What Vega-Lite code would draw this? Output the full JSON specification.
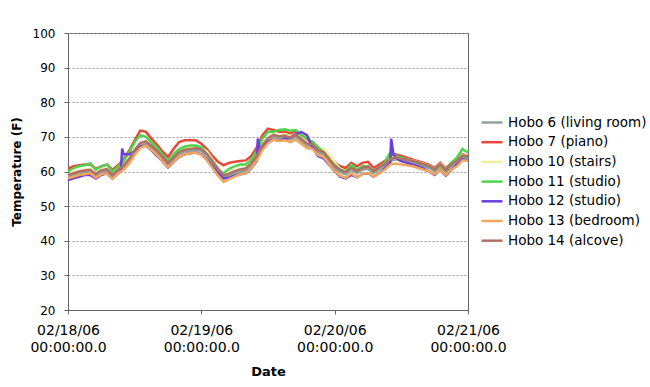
{
"$schema":"https://vega.github.io/schema/vega-lite/v6.json",
"width":400,"height":277,
"autosize":{"type":"none"},
"padding":{"left":68,"top":33,"right":182,"bottom":77},
"background":"white",
"config":{"view":{"stroke":"#666666","strokeWidth":1},"font":"DejaVu Sans"},
"data":{"values":[
{"s":"Hobo 6 (living room)","d":"2006-02-18T00:00","v":58.5},{"s":"Hobo 6 (living room)","d":"2006-02-18T01:00","v":59.0},{"s":"Hobo 6 (living room)","d":"2006-02-18T02:00","v":59.5},{"s":"Hobo 6 (living room)","d":"2006-02-18T03:00","v":59.8},{"s":"Hobo 6 (living room)","d":"2006-02-18T04:00","v":60.0},{"s":"Hobo 6 (living room)","d":"2006-02-18T05:00","v":58.8},{"s":"Hobo 6 (living room)","d":"2006-02-18T06:00","v":59.8},{"s":"Hobo 6 (living room)","d":"2006-02-18T07:00","v":60.2},{"s":"Hobo 6 (living room)","d":"2006-02-18T08:00","v":58.6},{"s":"Hobo 6 (living room)","d":"2006-02-18T09:00","v":60.0},{"s":"Hobo 6 (living room)","d":"2006-02-18T10:00","v":61.2},{"s":"Hobo 6 (living room)","d":"2006-02-18T11:00","v":63.0},{"s":"Hobo 6 (living room)","d":"2006-02-18T12:00","v":65.5},{"s":"Hobo 6 (living room)","d":"2006-02-18T13:00","v":67.5},{"s":"Hobo 6 (living room)","d":"2006-02-18T14:00","v":68.2},{"s":"Hobo 6 (living room)","d":"2006-02-18T15:00","v":67.0},{"s":"Hobo 6 (living room)","d":"2006-02-18T16:00","v":65.5},{"s":"Hobo 6 (living room)","d":"2006-02-18T17:00","v":63.8},{"s":"Hobo 6 (living room)","d":"2006-02-18T18:00","v":62.0},{"s":"Hobo 6 (living room)","d":"2006-02-18T19:00","v":63.5},{"s":"Hobo 6 (living room)","d":"2006-02-18T20:00","v":65.0},{"s":"Hobo 6 (living room)","d":"2006-02-18T21:00","v":65.8},{"s":"Hobo 6 (living room)","d":"2006-02-18T22:00","v":66.0},{"s":"Hobo 6 (living room)","d":"2006-02-18T23:00","v":66.2},
{"s":"Hobo 6 (living room)","d":"2006-02-19T00:00","v":66.0},{"s":"Hobo 6 (living room)","d":"2006-02-19T01:00","v":64.7},{"s":"Hobo 6 (living room)","d":"2006-02-19T02:00","v":62.5},{"s":"Hobo 6 (living room)","d":"2006-02-19T03:00","v":60.3},{"s":"Hobo 6 (living room)","d":"2006-02-19T04:00","v":58.2},{"s":"Hobo 6 (living room)","d":"2006-02-19T05:00","v":58.8},{"s":"Hobo 6 (living room)","d":"2006-02-19T06:00","v":59.5},{"s":"Hobo 6 (living room)","d":"2006-02-19T07:00","v":60.0},{"s":"Hobo 6 (living room)","d":"2006-02-19T08:00","v":60.3},{"s":"Hobo 6 (living room)","d":"2006-02-19T09:00","v":61.8},{"s":"Hobo 6 (living room)","d":"2006-02-19T10:00","v":64.0},{"s":"Hobo 6 (living room)","d":"2006-02-19T11:00","v":67.0},{"s":"Hobo 6 (living room)","d":"2006-02-19T12:00","v":69.0},{"s":"Hobo 6 (living room)","d":"2006-02-19T13:00","v":70.0},{"s":"Hobo 6 (living room)","d":"2006-02-19T14:00","v":69.5},{"s":"Hobo 6 (living room)","d":"2006-02-19T15:00","v":69.8},{"s":"Hobo 6 (living room)","d":"2006-02-19T16:00","v":69.2},{"s":"Hobo 6 (living room)","d":"2006-02-19T17:00","v":70.0},{"s":"Hobo 6 (living room)","d":"2006-02-19T18:00","v":68.8},{"s":"Hobo 6 (living room)","d":"2006-02-19T19:00","v":67.5},{"s":"Hobo 6 (living room)","d":"2006-02-19T20:00","v":67.2},{"s":"Hobo 6 (living room)","d":"2006-02-19T21:00","v":65.5},{"s":"Hobo 6 (living room)","d":"2006-02-19T22:00","v":65.0},{"s":"Hobo 6 (living room)","d":"2006-02-19T23:00","v":63.0},
{"s":"Hobo 6 (living room)","d":"2006-02-20T00:00","v":61.0},{"s":"Hobo 6 (living room)","d":"2006-02-20T01:00","v":59.8},{"s":"Hobo 6 (living room)","d":"2006-02-20T02:00","v":59.2},{"s":"Hobo 6 (living room)","d":"2006-02-20T03:00","v":60.5},{"s":"Hobo 6 (living room)","d":"2006-02-20T04:00","v":59.5},{"s":"Hobo 6 (living room)","d":"2006-02-20T05:00","v":60.5},{"s":"Hobo 6 (living room)","d":"2006-02-20T06:00","v":60.8},{"s":"Hobo 6 (living room)","d":"2006-02-20T07:00","v":59.5},{"s":"Hobo 6 (living room)","d":"2006-02-20T08:00","v":60.6},{"s":"Hobo 6 (living room)","d":"2006-02-20T09:00","v":61.5},{"s":"Hobo 6 (living room)","d":"2006-02-20T10:00","v":63.0},{"s":"Hobo 6 (living room)","d":"2006-02-20T11:00","v":63.5},{"s":"Hobo 6 (living room)","d":"2006-02-20T12:00","v":63.0},{"s":"Hobo 6 (living room)","d":"2006-02-20T13:00","v":62.8},{"s":"Hobo 6 (living room)","d":"2006-02-20T14:00","v":62.5},{"s":"Hobo 6 (living room)","d":"2006-02-20T15:00","v":62.0},{"s":"Hobo 6 (living room)","d":"2006-02-20T16:00","v":61.5},{"s":"Hobo 6 (living room)","d":"2006-02-20T17:00","v":61.0},{"s":"Hobo 6 (living room)","d":"2006-02-20T18:00","v":60.0},{"s":"Hobo 6 (living room)","d":"2006-02-20T19:00","v":61.5},{"s":"Hobo 6 (living room)","d":"2006-02-20T20:00","v":59.8},{"s":"Hobo 6 (living room)","d":"2006-02-20T21:00","v":61.5},{"s":"Hobo 6 (living room)","d":"2006-02-20T22:00","v":62.5},{"s":"Hobo 6 (living room)","d":"2006-02-20T23:00","v":64.0},{"s":"Hobo 6 (living room)","d":"2006-02-21T00:00","v":63.8},

{"s":"Hobo 7 (piano)","d":"2006-02-18T00:00","v":60.8},{"s":"Hobo 7 (piano)","d":"2006-02-18T01:00","v":61.5},{"s":"Hobo 7 (piano)","d":"2006-02-18T02:00","v":61.8},{"s":"Hobo 7 (piano)","d":"2006-02-18T03:00","v":62.0},{"s":"Hobo 7 (piano)","d":"2006-02-18T04:00","v":62.0},{"s":"Hobo 7 (piano)","d":"2006-02-18T05:00","v":60.8},{"s":"Hobo 7 (piano)","d":"2006-02-18T06:00","v":61.5},{"s":"Hobo 7 (piano)","d":"2006-02-18T07:00","v":62.0},{"s":"Hobo 7 (piano)","d":"2006-02-18T08:00","v":60.5},{"s":"Hobo 7 (piano)","d":"2006-02-18T09:00","v":61.8},{"s":"Hobo 7 (piano)","d":"2006-02-18T10:00","v":63.5},{"s":"Hobo 7 (piano)","d":"2006-02-18T11:00","v":66.0},{"s":"Hobo 7 (piano)","d":"2006-02-18T12:00","v":69.0},{"s":"Hobo 7 (piano)","d":"2006-02-18T13:00","v":71.8},{"s":"Hobo 7 (piano)","d":"2006-02-18T14:00","v":71.5},{"s":"Hobo 7 (piano)","d":"2006-02-18T15:00","v":69.5},{"s":"Hobo 7 (piano)","d":"2006-02-18T16:00","v":67.8},{"s":"Hobo 7 (piano)","d":"2006-02-18T17:00","v":65.8},{"s":"Hobo 7 (piano)","d":"2006-02-18T18:00","v":64.2},{"s":"Hobo 7 (piano)","d":"2006-02-18T19:00","v":66.5},{"s":"Hobo 7 (piano)","d":"2006-02-18T20:00","v":68.5},{"s":"Hobo 7 (piano)","d":"2006-02-18T21:00","v":69.0},{"s":"Hobo 7 (piano)","d":"2006-02-18T22:00","v":69.0},{"s":"Hobo 7 (piano)","d":"2006-02-18T23:00","v":69.0},
{"s":"Hobo 7 (piano)","d":"2006-02-19T00:00","v":68.0},{"s":"Hobo 7 (piano)","d":"2006-02-19T01:00","v":66.5},{"s":"Hobo 7 (piano)","d":"2006-02-19T02:00","v":64.5},{"s":"Hobo 7 (piano)","d":"2006-02-19T03:00","v":62.8},{"s":"Hobo 7 (piano)","d":"2006-02-19T04:00","v":61.8},{"s":"Hobo 7 (piano)","d":"2006-02-19T05:00","v":62.5},{"s":"Hobo 7 (piano)","d":"2006-02-19T06:00","v":62.8},{"s":"Hobo 7 (piano)","d":"2006-02-19T07:00","v":63.0},{"s":"Hobo 7 (piano)","d":"2006-02-19T08:00","v":63.2},{"s":"Hobo 7 (piano)","d":"2006-02-19T09:00","v":64.5},{"s":"Hobo 7 (piano)","d":"2006-02-19T10:00","v":67.0},{"s":"Hobo 7 (piano)","d":"2006-02-19T11:00","v":70.5},{"s":"Hobo 7 (piano)","d":"2006-02-19T12:00","v":72.4},{"s":"Hobo 7 (piano)","d":"2006-02-19T13:00","v":72.0},{"s":"Hobo 7 (piano)","d":"2006-02-19T14:00","v":71.5},{"s":"Hobo 7 (piano)","d":"2006-02-19T15:00","v":71.5},{"s":"Hobo 7 (piano)","d":"2006-02-19T16:00","v":71.0},{"s":"Hobo 7 (piano)","d":"2006-02-19T17:00","v":71.5},{"s":"Hobo 7 (piano)","d":"2006-02-19T18:00","v":70.5},{"s":"Hobo 7 (piano)","d":"2006-02-19T19:00","v":69.0},{"s":"Hobo 7 (piano)","d":"2006-02-19T20:00","v":68.5},{"s":"Hobo 7 (piano)","d":"2006-02-19T21:00","v":67.0},{"s":"Hobo 7 (piano)","d":"2006-02-19T22:00","v":66.0},{"s":"Hobo 7 (piano)","d":"2006-02-19T23:00","v":64.5},
{"s":"Hobo 7 (piano)","d":"2006-02-20T00:00","v":62.5},{"s":"Hobo 7 (piano)","d":"2006-02-20T01:00","v":61.5},{"s":"Hobo 7 (piano)","d":"2006-02-20T02:00","v":61.0},{"s":"Hobo 7 (piano)","d":"2006-02-20T03:00","v":62.5},{"s":"Hobo 7 (piano)","d":"2006-02-20T04:00","v":61.5},{"s":"Hobo 7 (piano)","d":"2006-02-20T05:00","v":62.5},{"s":"Hobo 7 (piano)","d":"2006-02-20T06:00","v":62.8},{"s":"Hobo 7 (piano)","d":"2006-02-20T07:00","v":61.0},{"s":"Hobo 7 (piano)","d":"2006-02-20T08:00","v":62.0},{"s":"Hobo 7 (piano)","d":"2006-02-20T09:00","v":63.0},{"s":"Hobo 7 (piano)","d":"2006-02-20T10:00","v":64.5},{"s":"Hobo 7 (piano)","d":"2006-02-20T11:00","v":65.0},{"s":"Hobo 7 (piano)","d":"2006-02-20T12:00","v":64.5},{"s":"Hobo 7 (piano)","d":"2006-02-20T13:00","v":64.0},{"s":"Hobo 7 (piano)","d":"2006-02-20T14:00","v":63.5},{"s":"Hobo 7 (piano)","d":"2006-02-20T15:00","v":63.0},{"s":"Hobo 7 (piano)","d":"2006-02-20T16:00","v":62.5},{"s":"Hobo 7 (piano)","d":"2006-02-20T17:00","v":62.0},{"s":"Hobo 7 (piano)","d":"2006-02-20T18:00","v":61.0},{"s":"Hobo 7 (piano)","d":"2006-02-20T19:00","v":62.5},{"s":"Hobo 7 (piano)","d":"2006-02-20T20:00","v":60.8},{"s":"Hobo 7 (piano)","d":"2006-02-20T21:00","v":62.5},{"s":"Hobo 7 (piano)","d":"2006-02-20T22:00","v":63.5},{"s":"Hobo 7 (piano)","d":"2006-02-20T23:00","v":65.0},{"s":"Hobo 7 (piano)","d":"2006-02-21T00:00","v":64.5},

{"s":"Hobo 10 (stairs)","d":"2006-02-18T00:00","v":59.0},{"s":"Hobo 10 (stairs)","d":"2006-02-18T01:00","v":59.8},{"s":"Hobo 10 (stairs)","d":"2006-02-18T02:00","v":60.2},{"s":"Hobo 10 (stairs)","d":"2006-02-18T03:00","v":60.5},{"s":"Hobo 10 (stairs)","d":"2006-02-18T04:00","v":60.8},{"s":"Hobo 10 (stairs)","d":"2006-02-18T05:00","v":59.5},{"s":"Hobo 10 (stairs)","d":"2006-02-18T06:00","v":60.5},{"s":"Hobo 10 (stairs)","d":"2006-02-18T07:00","v":60.8},{"s":"Hobo 10 (stairs)","d":"2006-02-18T08:00","v":59.3},{"s":"Hobo 10 (stairs)","d":"2006-02-18T09:00","v":60.6},{"s":"Hobo 10 (stairs)","d":"2006-02-18T10:00","v":62.0},{"s":"Hobo 10 (stairs)","d":"2006-02-18T11:00","v":63.8},{"s":"Hobo 10 (stairs)","d":"2006-02-18T12:00","v":66.2},{"s":"Hobo 10 (stairs)","d":"2006-02-18T13:00","v":68.2},{"s":"Hobo 10 (stairs)","d":"2006-02-18T14:00","v":68.8},{"s":"Hobo 10 (stairs)","d":"2006-02-18T15:00","v":67.8},{"s":"Hobo 10 (stairs)","d":"2006-02-18T16:00","v":66.2},{"s":"Hobo 10 (stairs)","d":"2006-02-18T17:00","v":64.5},{"s":"Hobo 10 (stairs)","d":"2006-02-18T18:00","v":62.8},{"s":"Hobo 10 (stairs)","d":"2006-02-18T19:00","v":64.2},{"s":"Hobo 10 (stairs)","d":"2006-02-18T20:00","v":65.8},{"s":"Hobo 10 (stairs)","d":"2006-02-18T21:00","v":66.6},{"s":"Hobo 10 (stairs)","d":"2006-02-18T22:00","v":67.0},{"s":"Hobo 10 (stairs)","d":"2006-02-18T23:00","v":67.2},
{"s":"Hobo 10 (stairs)","d":"2006-02-19T00:00","v":66.8},{"s":"Hobo 10 (stairs)","d":"2006-02-19T01:00","v":65.8},{"s":"Hobo 10 (stairs)","d":"2006-02-19T02:00","v":63.5},{"s":"Hobo 10 (stairs)","d":"2006-02-19T03:00","v":61.2},{"s":"Hobo 10 (stairs)","d":"2006-02-19T04:00","v":59.0},{"s":"Hobo 10 (stairs)","d":"2006-02-19T05:00","v":59.6},{"s":"Hobo 10 (stairs)","d":"2006-02-19T06:00","v":60.3},{"s":"Hobo 10 (stairs)","d":"2006-02-19T07:00","v":60.8},{"s":"Hobo 10 (stairs)","d":"2006-02-19T08:00","v":61.0},{"s":"Hobo 10 (stairs)","d":"2006-02-19T09:00","v":62.5},{"s":"Hobo 10 (stairs)","d":"2006-02-19T10:00","v":64.8},{"s":"Hobo 10 (stairs)","d":"2006-02-19T11:00","v":67.8},{"s":"Hobo 10 (stairs)","d":"2006-02-19T12:00","v":69.8},{"s":"Hobo 10 (stairs)","d":"2006-02-19T13:00","v":70.8},{"s":"Hobo 10 (stairs)","d":"2006-02-19T14:00","v":70.5},{"s":"Hobo 10 (stairs)","d":"2006-02-19T15:00","v":70.8},{"s":"Hobo 10 (stairs)","d":"2006-02-19T16:00","v":70.2},{"s":"Hobo 10 (stairs)","d":"2006-02-19T17:00","v":70.8},{"s":"Hobo 10 (stairs)","d":"2006-02-19T18:00","v":69.8},{"s":"Hobo 10 (stairs)","d":"2006-02-19T19:00","v":68.5},{"s":"Hobo 10 (stairs)","d":"2006-02-19T20:00","v":68.2},{"s":"Hobo 10 (stairs)","d":"2006-02-19T21:00","v":67.0},{"s":"Hobo 10 (stairs)","d":"2006-02-19T22:00","v":66.5},{"s":"Hobo 10 (stairs)","d":"2006-02-19T23:00","v":64.8},
{"s":"Hobo 10 (stairs)","d":"2006-02-20T00:00","v":62.5},{"s":"Hobo 10 (stairs)","d":"2006-02-20T01:00","v":60.8},{"s":"Hobo 10 (stairs)","d":"2006-02-20T02:00","v":60.0},{"s":"Hobo 10 (stairs)","d":"2006-02-20T03:00","v":61.2},{"s":"Hobo 10 (stairs)","d":"2006-02-20T04:00","v":60.2},{"s":"Hobo 10 (stairs)","d":"2006-02-20T05:00","v":61.2},{"s":"Hobo 10 (stairs)","d":"2006-02-20T06:00","v":61.5},{"s":"Hobo 10 (stairs)","d":"2006-02-20T07:00","v":60.2},{"s":"Hobo 10 (stairs)","d":"2006-02-20T08:00","v":61.2},{"s":"Hobo 10 (stairs)","d":"2006-02-20T09:00","v":62.2},{"s":"Hobo 10 (stairs)","d":"2006-02-20T10:00","v":63.8},{"s":"Hobo 10 (stairs)","d":"2006-02-20T11:00","v":64.2},{"s":"Hobo 10 (stairs)","d":"2006-02-20T12:00","v":63.8},{"s":"Hobo 10 (stairs)","d":"2006-02-20T13:00","v":63.5},{"s":"Hobo 10 (stairs)","d":"2006-02-20T14:00","v":63.2},{"s":"Hobo 10 (stairs)","d":"2006-02-20T15:00","v":62.7},{"s":"Hobo 10 (stairs)","d":"2006-02-20T16:00","v":62.2},{"s":"Hobo 10 (stairs)","d":"2006-02-20T17:00","v":61.7},{"s":"Hobo 10 (stairs)","d":"2006-02-20T18:00","v":60.7},{"s":"Hobo 10 (stairs)","d":"2006-02-20T19:00","v":62.2},{"s":"Hobo 10 (stairs)","d":"2006-02-20T20:00","v":60.5},{"s":"Hobo 10 (stairs)","d":"2006-02-20T21:00","v":62.2},{"s":"Hobo 10 (stairs)","d":"2006-02-20T22:00","v":63.2},{"s":"Hobo 10 (stairs)","d":"2006-02-20T23:00","v":64.8},{"s":"Hobo 10 (stairs)","d":"2006-02-21T00:00","v":64.5},

{"s":"Hobo 11 (studio)","d":"2006-02-18T00:00","v":60.0},{"s":"Hobo 11 (studio)","d":"2006-02-18T01:00","v":61.0},{"s":"Hobo 11 (studio)","d":"2006-02-18T02:00","v":61.5},{"s":"Hobo 11 (studio)","d":"2006-02-18T03:00","v":61.8},{"s":"Hobo 11 (studio)","d":"2006-02-18T04:00","v":62.3},{"s":"Hobo 11 (studio)","d":"2006-02-18T05:00","v":60.5},{"s":"Hobo 11 (studio)","d":"2006-02-18T06:00","v":61.5},{"s":"Hobo 11 (studio)","d":"2006-02-18T07:00","v":62.0},{"s":"Hobo 11 (studio)","d":"2006-02-18T08:00","v":60.0},{"s":"Hobo 11 (studio)","d":"2006-02-18T09:00","v":61.5},{"s":"Hobo 11 (studio)","d":"2006-02-18T10:00","v":63.0},{"s":"Hobo 11 (studio)","d":"2006-02-18T11:00","v":65.5},{"s":"Hobo 11 (studio)","d":"2006-02-18T12:00","v":68.5},{"s":"Hobo 11 (studio)","d":"2006-02-18T13:00","v":70.5},{"s":"Hobo 11 (studio)","d":"2006-02-18T14:00","v":70.0},{"s":"Hobo 11 (studio)","d":"2006-02-18T15:00","v":68.5},{"s":"Hobo 11 (studio)","d":"2006-02-18T16:00","v":67.0},{"s":"Hobo 11 (studio)","d":"2006-02-18T17:00","v":65.0},{"s":"Hobo 11 (studio)","d":"2006-02-18T18:00","v":63.0},{"s":"Hobo 11 (studio)","d":"2006-02-18T19:00","v":65.0},{"s":"Hobo 11 (studio)","d":"2006-02-18T20:00","v":66.5},{"s":"Hobo 11 (studio)","d":"2006-02-18T21:00","v":67.2},{"s":"Hobo 11 (studio)","d":"2006-02-18T22:00","v":67.5},{"s":"Hobo 11 (studio)","d":"2006-02-18T23:00","v":67.5},
{"s":"Hobo 11 (studio)","d":"2006-02-19T00:00","v":67.0},{"s":"Hobo 11 (studio)","d":"2006-02-19T01:00","v":65.0},{"s":"Hobo 11 (studio)","d":"2006-02-19T02:00","v":62.5},{"s":"Hobo 11 (studio)","d":"2006-02-19T03:00","v":60.5},{"s":"Hobo 11 (studio)","d":"2006-02-19T04:00","v":59.5},{"s":"Hobo 11 (studio)","d":"2006-02-19T05:00","v":60.8},{"s":"Hobo 11 (studio)","d":"2006-02-19T06:00","v":61.5},{"s":"Hobo 11 (studio)","d":"2006-02-19T07:00","v":62.0},{"s":"Hobo 11 (studio)","d":"2006-02-19T08:00","v":62.0},{"s":"Hobo 11 (studio)","d":"2006-02-19T09:00","v":63.5},{"s":"Hobo 11 (studio)","d":"2006-02-19T10:00","v":66.0},{"s":"Hobo 11 (studio)","d":"2006-02-19T11:00","v":69.5},{"s":"Hobo 11 (studio)","d":"2006-02-19T12:00","v":71.5},{"s":"Hobo 11 (studio)","d":"2006-02-19T13:00","v":71.5},{"s":"Hobo 11 (studio)","d":"2006-02-19T14:00","v":72.0},{"s":"Hobo 11 (studio)","d":"2006-02-19T15:00","v":72.2},{"s":"Hobo 11 (studio)","d":"2006-02-19T16:00","v":71.8},{"s":"Hobo 11 (studio)","d":"2006-02-19T17:00","v":72.0},{"s":"Hobo 11 (studio)","d":"2006-02-19T18:00","v":70.5},{"s":"Hobo 11 (studio)","d":"2006-02-19T19:00","v":69.5},{"s":"Hobo 11 (studio)","d":"2006-02-19T20:00","v":68.5},{"s":"Hobo 11 (studio)","d":"2006-02-19T21:00","v":67.0},{"s":"Hobo 11 (studio)","d":"2006-02-19T22:00","v":65.5},{"s":"Hobo 11 (studio)","d":"2006-02-19T23:00","v":63.5},
{"s":"Hobo 11 (studio)","d":"2006-02-20T00:00","v":61.8},{"s":"Hobo 11 (studio)","d":"2006-02-20T01:00","v":60.5},{"s":"Hobo 11 (studio)","d":"2006-02-20T02:00","v":60.0},{"s":"Hobo 11 (studio)","d":"2006-02-20T03:00","v":62.0},{"s":"Hobo 11 (studio)","d":"2006-02-20T04:00","v":60.5},{"s":"Hobo 11 (studio)","d":"2006-02-20T05:00","v":61.5},{"s":"Hobo 11 (studio)","d":"2006-02-20T06:00","v":61.5},{"s":"Hobo 11 (studio)","d":"2006-02-20T07:00","v":60.0},{"s":"Hobo 11 (studio)","d":"2006-02-20T08:00","v":61.2},{"s":"Hobo 11 (studio)","d":"2006-02-20T09:00","v":62.5},{"s":"Hobo 11 (studio)","d":"2006-02-20T10:00","v":65.5},{"s":"Hobo 11 (studio)","d":"2006-02-20T11:00","v":64.5},{"s":"Hobo 11 (studio)","d":"2006-02-20T12:00","v":64.0},{"s":"Hobo 11 (studio)","d":"2006-02-20T13:00","v":63.5},{"s":"Hobo 11 (studio)","d":"2006-02-20T14:00","v":63.0},{"s":"Hobo 11 (studio)","d":"2006-02-20T15:00","v":62.5},{"s":"Hobo 11 (studio)","d":"2006-02-20T16:00","v":62.0},{"s":"Hobo 11 (studio)","d":"2006-02-20T17:00","v":61.5},{"s":"Hobo 11 (studio)","d":"2006-02-20T18:00","v":60.5},{"s":"Hobo 11 (studio)","d":"2006-02-20T19:00","v":62.0},{"s":"Hobo 11 (studio)","d":"2006-02-20T20:00","v":60.5},{"s":"Hobo 11 (studio)","d":"2006-02-20T21:00","v":62.5},{"s":"Hobo 11 (studio)","d":"2006-02-20T22:00","v":64.0},{"s":"Hobo 11 (studio)","d":"2006-02-20T23:00","v":66.5},{"s":"Hobo 11 (studio)","d":"2006-02-21T00:00","v":65.5},

{"s":"Hobo 12 (studio)","d":"2006-02-18T00:00","v":57.5},{"s":"Hobo 12 (studio)","d":"2006-02-18T01:00","v":58.0},{"s":"Hobo 12 (studio)","d":"2006-02-18T02:00","v":58.5},{"s":"Hobo 12 (studio)","d":"2006-02-18T03:00","v":59.0},{"s":"Hobo 12 (studio)","d":"2006-02-18T04:00","v":59.0},{"s":"Hobo 12 (studio)","d":"2006-02-18T05:00","v":58.0},{"s":"Hobo 12 (studio)","d":"2006-02-18T06:00","v":59.0},{"s":"Hobo 12 (studio)","d":"2006-02-18T07:00","v":59.5},{"s":"Hobo 12 (studio)","d":"2006-02-18T08:00","v":58.0},{"s":"Hobo 12 (studio)","d":"2006-02-18T09:00","v":59.5},{"s":"Hobo 12 (studio)","d":"2006-02-18T09:30","v":60.0},{"s":"Hobo 12 (studio)","d":"2006-02-18T09:45","v":66.6},{"s":"Hobo 12 (studio)","d":"2006-02-18T10:00","v":65.0},{"s":"Hobo 12 (studio)","d":"2006-02-18T11:00","v":65.0},{"s":"Hobo 12 (studio)","d":"2006-02-18T12:00","v":66.0},{"s":"Hobo 12 (studio)","d":"2006-02-18T13:00","v":67.2},{"s":"Hobo 12 (studio)","d":"2006-02-18T14:00","v":67.5},{"s":"Hobo 12 (studio)","d":"2006-02-18T15:00","v":66.2},{"s":"Hobo 12 (studio)","d":"2006-02-18T16:00","v":64.5},{"s":"Hobo 12 (studio)","d":"2006-02-18T17:00","v":63.0},{"s":"Hobo 12 (studio)","d":"2006-02-18T18:00","v":61.2},{"s":"Hobo 12 (studio)","d":"2006-02-18T19:00","v":62.8},{"s":"Hobo 12 (studio)","d":"2006-02-18T20:00","v":64.2},{"s":"Hobo 12 (studio)","d":"2006-02-18T21:00","v":65.0},{"s":"Hobo 12 (studio)","d":"2006-02-18T22:00","v":65.3},{"s":"Hobo 12 (studio)","d":"2006-02-18T23:00","v":65.5},
{"s":"Hobo 12 (studio)","d":"2006-02-19T00:00","v":65.0},{"s":"Hobo 12 (studio)","d":"2006-02-19T01:00","v":63.5},{"s":"Hobo 12 (studio)","d":"2006-02-19T02:00","v":61.5},{"s":"Hobo 12 (studio)","d":"2006-02-19T03:00","v":59.5},{"s":"Hobo 12 (studio)","d":"2006-02-19T04:00","v":58.0},{"s":"Hobo 12 (studio)","d":"2006-02-19T05:00","v":58.2},{"s":"Hobo 12 (studio)","d":"2006-02-19T06:00","v":58.8},{"s":"Hobo 12 (studio)","d":"2006-02-19T07:00","v":59.2},{"s":"Hobo 12 (studio)","d":"2006-02-19T08:00","v":59.5},{"s":"Hobo 12 (studio)","d":"2006-02-19T09:00","v":61.0},{"s":"Hobo 12 (studio)","d":"2006-02-19T10:00","v":63.0},{"s":"Hobo 12 (studio)","d":"2006-02-19T10:10","v":69.5},{"s":"Hobo 12 (studio)","d":"2006-02-19T10:30","v":66.5},{"s":"Hobo 12 (studio)","d":"2006-02-19T11:00","v":66.8},{"s":"Hobo 12 (studio)","d":"2006-02-19T12:00","v":68.5},{"s":"Hobo 12 (studio)","d":"2006-02-19T13:00","v":69.2},{"s":"Hobo 12 (studio)","d":"2006-02-19T14:00","v":68.8},{"s":"Hobo 12 (studio)","d":"2006-02-19T15:00","v":69.5},{"s":"Hobo 12 (studio)","d":"2006-02-19T16:00","v":69.8},{"s":"Hobo 12 (studio)","d":"2006-02-19T17:00","v":70.8},{"s":"Hobo 12 (studio)","d":"2006-02-19T18:00","v":71.4},{"s":"Hobo 12 (studio)","d":"2006-02-19T19:00","v":70.5},{"s":"Hobo 12 (studio)","d":"2006-02-19T20:00","v":67.0},{"s":"Hobo 12 (studio)","d":"2006-02-19T21:00","v":64.5},{"s":"Hobo 12 (studio)","d":"2006-02-19T22:00","v":63.8},{"s":"Hobo 12 (studio)","d":"2006-02-19T23:00","v":62.0},
{"s":"Hobo 12 (studio)","d":"2006-02-20T00:00","v":60.0},{"s":"Hobo 12 (studio)","d":"2006-02-20T01:00","v":58.5},{"s":"Hobo 12 (studio)","d":"2006-02-20T02:00","v":58.0},{"s":"Hobo 12 (studio)","d":"2006-02-20T03:00","v":59.0},{"s":"Hobo 12 (studio)","d":"2006-02-20T04:00","v":58.3},{"s":"Hobo 12 (studio)","d":"2006-02-20T05:00","v":59.3},{"s":"Hobo 12 (studio)","d":"2006-02-20T06:00","v":59.5},{"s":"Hobo 12 (studio)","d":"2006-02-20T07:00","v":58.5},{"s":"Hobo 12 (studio)","d":"2006-02-20T08:00","v":59.5},{"s":"Hobo 12 (studio)","d":"2006-02-20T09:00","v":60.8},{"s":"Hobo 12 (studio)","d":"2006-02-20T10:00","v":62.5},{"s":"Hobo 12 (studio)","d":"2006-02-20T10:10","v":69.5},{"s":"Hobo 12 (studio)","d":"2006-02-20T10:35","v":65.0},{"s":"Hobo 12 (studio)","d":"2006-02-20T11:00","v":64.0},{"s":"Hobo 12 (studio)","d":"2006-02-20T12:00","v":63.0},{"s":"Hobo 12 (studio)","d":"2006-02-20T13:00","v":62.5},{"s":"Hobo 12 (studio)","d":"2006-02-20T14:00","v":62.0},{"s":"Hobo 12 (studio)","d":"2006-02-20T15:00","v":61.5},{"s":"Hobo 12 (studio)","d":"2006-02-20T16:00","v":60.8},{"s":"Hobo 12 (studio)","d":"2006-02-20T17:00","v":60.0},{"s":"Hobo 12 (studio)","d":"2006-02-20T18:00","v":59.0},{"s":"Hobo 12 (studio)","d":"2006-02-20T19:00","v":60.5},{"s":"Hobo 12 (studio)","d":"2006-02-20T20:00","v":58.8},{"s":"Hobo 12 (studio)","d":"2006-02-20T21:00","v":60.5},{"s":"Hobo 12 (studio)","d":"2006-02-20T22:00","v":62.0},{"s":"Hobo 12 (studio)","d":"2006-02-20T23:00","v":63.5},{"s":"Hobo 12 (studio)","d":"2006-02-21T00:00","v":63.2},

{"s":"Hobo 13 (bedroom)","d":"2006-02-18T00:00","v":58.0},{"s":"Hobo 13 (bedroom)","d":"2006-02-18T01:00","v":58.5},{"s":"Hobo 13 (bedroom)","d":"2006-02-18T02:00","v":59.0},{"s":"Hobo 13 (bedroom)","d":"2006-02-18T03:00","v":59.2},{"s":"Hobo 13 (bedroom)","d":"2006-02-18T04:00","v":59.5},{"s":"Hobo 13 (bedroom)","d":"2006-02-18T05:00","v":58.2},{"s":"Hobo 13 (bedroom)","d":"2006-02-18T06:00","v":59.2},{"s":"Hobo 13 (bedroom)","d":"2006-02-18T07:00","v":59.5},{"s":"Hobo 13 (bedroom)","d":"2006-02-18T08:00","v":57.9},{"s":"Hobo 13 (bedroom)","d":"2006-02-18T09:00","v":59.4},{"s":"Hobo 13 (bedroom)","d":"2006-02-18T10:00","v":60.5},{"s":"Hobo 13 (bedroom)","d":"2006-02-18T11:00","v":62.3},{"s":"Hobo 13 (bedroom)","d":"2006-02-18T12:00","v":64.8},{"s":"Hobo 13 (bedroom)","d":"2006-02-18T13:00","v":66.8},{"s":"Hobo 13 (bedroom)","d":"2006-02-18T14:00","v":67.5},{"s":"Hobo 13 (bedroom)","d":"2006-02-18T15:00","v":66.3},{"s":"Hobo 13 (bedroom)","d":"2006-02-18T16:00","v":64.8},{"s":"Hobo 13 (bedroom)","d":"2006-02-18T17:00","v":63.0},{"s":"Hobo 13 (bedroom)","d":"2006-02-18T18:00","v":61.3},{"s":"Hobo 13 (bedroom)","d":"2006-02-18T19:00","v":62.8},{"s":"Hobo 13 (bedroom)","d":"2006-02-18T20:00","v":64.3},{"s":"Hobo 13 (bedroom)","d":"2006-02-18T21:00","v":65.0},{"s":"Hobo 13 (bedroom)","d":"2006-02-18T22:00","v":65.3},{"s":"Hobo 13 (bedroom)","d":"2006-02-18T23:00","v":65.5},
{"s":"Hobo 13 (bedroom)","d":"2006-02-19T00:00","v":64.8},{"s":"Hobo 13 (bedroom)","d":"2006-02-19T01:00","v":63.2},{"s":"Hobo 13 (bedroom)","d":"2006-02-19T02:00","v":61.0},{"s":"Hobo 13 (bedroom)","d":"2006-02-19T03:00","v":58.8},{"s":"Hobo 13 (bedroom)","d":"2006-02-19T04:00","v":57.0},{"s":"Hobo 13 (bedroom)","d":"2006-02-19T05:00","v":57.8},{"s":"Hobo 13 (bedroom)","d":"2006-02-19T06:00","v":58.5},{"s":"Hobo 13 (bedroom)","d":"2006-02-19T07:00","v":59.2},{"s":"Hobo 13 (bedroom)","d":"2006-02-19T08:00","v":59.5},{"s":"Hobo 13 (bedroom)","d":"2006-02-19T09:00","v":61.0},{"s":"Hobo 13 (bedroom)","d":"2006-02-19T10:00","v":63.2},{"s":"Hobo 13 (bedroom)","d":"2006-02-19T11:00","v":66.2},{"s":"Hobo 13 (bedroom)","d":"2006-02-19T12:00","v":68.2},{"s":"Hobo 13 (bedroom)","d":"2006-02-19T13:00","v":69.2},{"s":"Hobo 13 (bedroom)","d":"2006-02-19T14:00","v":68.8},{"s":"Hobo 13 (bedroom)","d":"2006-02-19T15:00","v":69.0},{"s":"Hobo 13 (bedroom)","d":"2006-02-19T16:00","v":68.5},{"s":"Hobo 13 (bedroom)","d":"2006-02-19T17:00","v":69.2},{"s":"Hobo 13 (bedroom)","d":"2006-02-19T18:00","v":68.0},{"s":"Hobo 13 (bedroom)","d":"2006-02-19T19:00","v":66.8},{"s":"Hobo 13 (bedroom)","d":"2006-02-19T20:00","v":66.5},{"s":"Hobo 13 (bedroom)","d":"2006-02-19T21:00","v":64.8},{"s":"Hobo 13 (bedroom)","d":"2006-02-19T22:00","v":64.2},{"s":"Hobo 13 (bedroom)","d":"2006-02-19T23:00","v":62.2},
{"s":"Hobo 13 (bedroom)","d":"2006-02-20T00:00","v":60.0},{"s":"Hobo 13 (bedroom)","d":"2006-02-20T01:00","v":58.8},{"s":"Hobo 13 (bedroom)","d":"2006-02-20T02:00","v":58.2},{"s":"Hobo 13 (bedroom)","d":"2006-02-20T03:00","v":59.5},{"s":"Hobo 13 (bedroom)","d":"2006-02-20T04:00","v":58.3},{"s":"Hobo 13 (bedroom)","d":"2006-02-20T05:00","v":59.3},{"s":"Hobo 13 (bedroom)","d":"2006-02-20T06:00","v":59.6},{"s":"Hobo 13 (bedroom)","d":"2006-02-20T07:00","v":58.5},{"s":"Hobo 13 (bedroom)","d":"2006-02-20T08:00","v":59.5},{"s":"Hobo 13 (bedroom)","d":"2006-02-20T09:00","v":60.5},{"s":"Hobo 13 (bedroom)","d":"2006-02-20T10:00","v":62.0},{"s":"Hobo 13 (bedroom)","d":"2006-02-20T11:00","v":62.3},{"s":"Hobo 13 (bedroom)","d":"2006-02-20T12:00","v":62.0},{"s":"Hobo 13 (bedroom)","d":"2006-02-20T13:00","v":61.8},{"s":"Hobo 13 (bedroom)","d":"2006-02-20T14:00","v":61.5},{"s":"Hobo 13 (bedroom)","d":"2006-02-20T15:00","v":61.0},{"s":"Hobo 13 (bedroom)","d":"2006-02-20T16:00","v":60.5},{"s":"Hobo 13 (bedroom)","d":"2006-02-20T17:00","v":60.0},{"s":"Hobo 13 (bedroom)","d":"2006-02-20T18:00","v":59.2},{"s":"Hobo 13 (bedroom)","d":"2006-02-20T19:00","v":60.5},{"s":"Hobo 13 (bedroom)","d":"2006-02-20T20:00","v":59.0},{"s":"Hobo 13 (bedroom)","d":"2006-02-20T21:00","v":60.5},{"s":"Hobo 13 (bedroom)","d":"2006-02-20T22:00","v":61.5},{"s":"Hobo 13 (bedroom)","d":"2006-02-20T23:00","v":63.2},{"s":"Hobo 13 (bedroom)","d":"2006-02-21T00:00","v":63.2},

{"s":"Hobo 14 (alcove)","d":"2006-02-18T00:00","v":59.0},{"s":"Hobo 14 (alcove)","d":"2006-02-18T01:00","v":59.5},{"s":"Hobo 14 (alcove)","d":"2006-02-18T02:00","v":60.0},{"s":"Hobo 14 (alcove)","d":"2006-02-18T03:00","v":60.3},{"s":"Hobo 14 (alcove)","d":"2006-02-18T04:00","v":60.5},{"s":"Hobo 14 (alcove)","d":"2006-02-18T05:00","v":59.3},{"s":"Hobo 14 (alcove)","d":"2006-02-18T06:00","v":60.3},{"s":"Hobo 14 (alcove)","d":"2006-02-18T07:00","v":60.7},{"s":"Hobo 14 (alcove)","d":"2006-02-18T08:00","v":59.0},{"s":"Hobo 14 (alcove)","d":"2006-02-18T09:00","v":60.5},{"s":"Hobo 14 (alcove)","d":"2006-02-18T10:00","v":61.7},{"s":"Hobo 14 (alcove)","d":"2006-02-18T11:00","v":63.6},{"s":"Hobo 14 (alcove)","d":"2006-02-18T12:00","v":66.2},{"s":"Hobo 14 (alcove)","d":"2006-02-18T13:00","v":68.2},{"s":"Hobo 14 (alcove)","d":"2006-02-18T14:00","v":68.7},{"s":"Hobo 14 (alcove)","d":"2006-02-18T15:00","v":67.5},{"s":"Hobo 14 (alcove)","d":"2006-02-18T16:00","v":66.0},{"s":"Hobo 14 (alcove)","d":"2006-02-18T17:00","v":64.3},{"s":"Hobo 14 (alcove)","d":"2006-02-18T18:00","v":62.5},{"s":"Hobo 14 (alcove)","d":"2006-02-18T19:00","v":64.0},{"s":"Hobo 14 (alcove)","d":"2006-02-18T20:00","v":65.6},{"s":"Hobo 14 (alcove)","d":"2006-02-18T21:00","v":66.3},{"s":"Hobo 14 (alcove)","d":"2006-02-18T22:00","v":66.5},{"s":"Hobo 14 (alcove)","d":"2006-02-18T23:00","v":66.7},
{"s":"Hobo 14 (alcove)","d":"2006-02-19T00:00","v":66.4},{"s":"Hobo 14 (alcove)","d":"2006-02-19T01:00","v":65.1},{"s":"Hobo 14 (alcove)","d":"2006-02-19T02:00","v":63.0},{"s":"Hobo 14 (alcove)","d":"2006-02-19T03:00","v":60.8},{"s":"Hobo 14 (alcove)","d":"2006-02-19T04:00","v":58.8},{"s":"Hobo 14 (alcove)","d":"2006-02-19T05:00","v":59.4},{"s":"Hobo 14 (alcove)","d":"2006-02-19T06:00","v":60.1},{"s":"Hobo 14 (alcove)","d":"2006-02-19T07:00","v":60.6},{"s":"Hobo 14 (alcove)","d":"2006-02-19T08:00","v":60.9},{"s":"Hobo 14 (alcove)","d":"2006-02-19T09:00","v":62.4},{"s":"Hobo 14 (alcove)","d":"2006-02-19T10:00","v":64.6},{"s":"Hobo 14 (alcove)","d":"2006-02-19T11:00","v":67.6},{"s":"Hobo 14 (alcove)","d":"2006-02-19T12:00","v":69.6},{"s":"Hobo 14 (alcove)","d":"2006-02-19T13:00","v":70.6},{"s":"Hobo 14 (alcove)","d":"2006-02-19T14:00","v":70.1},{"s":"Hobo 14 (alcove)","d":"2006-02-19T15:00","v":70.4},{"s":"Hobo 14 (alcove)","d":"2006-02-19T16:00","v":69.8},{"s":"Hobo 14 (alcove)","d":"2006-02-19T17:00","v":70.6},{"s":"Hobo 14 (alcove)","d":"2006-02-19T18:00","v":69.4},{"s":"Hobo 14 (alcove)","d":"2006-02-19T19:00","v":68.1},{"s":"Hobo 14 (alcove)","d":"2006-02-19T20:00","v":67.8},{"s":"Hobo 14 (alcove)","d":"2006-02-19T21:00","v":66.1},{"s":"Hobo 14 (alcove)","d":"2006-02-19T22:00","v":65.6},{"s":"Hobo 14 (alcove)","d":"2006-02-19T23:00","v":63.6},
{"s":"Hobo 14 (alcove)","d":"2006-02-20T00:00","v":61.6},{"s":"Hobo 14 (alcove)","d":"2006-02-20T01:00","v":60.4},{"s":"Hobo 14 (alcove)","d":"2006-02-20T02:00","v":59.8},{"s":"Hobo 14 (alcove)","d":"2006-02-20T03:00","v":61.1},{"s":"Hobo 14 (alcove)","d":"2006-02-20T04:00","v":60.1},{"s":"Hobo 14 (alcove)","d":"2006-02-20T05:00","v":61.1},{"s":"Hobo 14 (alcove)","d":"2006-02-20T06:00","v":61.4},{"s":"Hobo 14 (alcove)","d":"2006-02-20T07:00","v":60.1},{"s":"Hobo 14 (alcove)","d":"2006-02-20T08:00","v":61.2},{"s":"Hobo 14 (alcove)","d":"2006-02-20T09:00","v":62.1},{"s":"Hobo 14 (alcove)","d":"2006-02-20T10:00","v":63.6},{"s":"Hobo 14 (alcove)","d":"2006-02-20T11:00","v":64.1},{"s":"Hobo 14 (alcove)","d":"2006-02-20T12:00","v":63.6},{"s":"Hobo 14 (alcove)","d":"2006-02-20T13:00","v":63.4},{"s":"Hobo 14 (alcove)","d":"2006-02-20T14:00","v":63.1},{"s":"Hobo 14 (alcove)","d":"2006-02-20T15:00","v":62.6},{"s":"Hobo 14 (alcove)","d":"2006-02-20T16:00","v":62.1},{"s":"Hobo 14 (alcove)","d":"2006-02-20T17:00","v":61.6},{"s":"Hobo 14 (alcove)","d":"2006-02-20T18:00","v":60.6},{"s":"Hobo 14 (alcove)","d":"2006-02-20T19:00","v":62.1},{"s":"Hobo 14 (alcove)","d":"2006-02-20T20:00","v":60.4},{"s":"Hobo 14 (alcove)","d":"2006-02-20T21:00","v":62.1},{"s":"Hobo 14 (alcove)","d":"2006-02-20T22:00","v":63.1},{"s":"Hobo 14 (alcove)","d":"2006-02-20T23:00","v":64.6},{"s":"Hobo 14 (alcove)","d":"2006-02-21T00:00","v":64.4}
]},
"mark":{"type":"line","strokeWidth":2.5},
"encoding":{
"x":{"field":"d","type":"temporal",
"scale":{"domain":[{"year":2006,"month":2,"date":18},{"year":2006,"month":2,"date":21}]},
"axis":{"title":"Date","values":[{"year":2006,"month":2,"date":18},{"year":2006,"month":2,"date":19},{"year":2006,"month":2,"date":20},{"year":2006,"month":2,"date":21}],
"labelExpr":"[timeFormat(datum.value,'%m/%d/%y'), timeFormat(datum.value,'%H:%M:%S') + '.0']",
"grid":false,"tickSize":4,"tickColor":"#666666","domainColor":"#666666","labelFontSize":14,"labelColor":"#000000","labelPadding":9,"labelLineHeight":17,"labelBaseline":"top","labelFlush":false,"labelOverlap":false,
"titleFontSize":13,"titleFontWeight":"bold","titleColor":"#000000","titlePadding":11}},
"y":{"field":"v","type":"quantitative",
"scale":{"domain":[20,100],"nice":false,"zero":false},
"axis":{"title":"Temperature (F)","values":[20,30,40,50,60,70,80,90,100],"tickSize":4,"tickColor":"#666666","domainColor":"#666666","labelFontSize":12,"labelColor":"#000000","labelPadding":9,
"gridColor":"#999999","gridDash":[2,2],"gridWidth":1,
"titleFontSize":12,"titleFontWeight":"bold","titleColor":"#000000","titlePadding":9}},
"color":{"field":"s","type":"nominal",
"scale":{"domain":["Hobo 6 (living room)","Hobo 7 (piano)","Hobo 10 (stairs)","Hobo 11 (studio)","Hobo 12 (studio)","Hobo 13 (bedroom)","Hobo 14 (alcove)"],
"range":["#8fa39c","#e8463a","#f5ec96","#4cd44c","#6a3ee0","#f0a55a","#b07068"]},
"legend":{"title":null,"orient":"none","legendX":412,"legendY":77.5,"symbolType":"stroke","symbolSize":441,"symbolStrokeWidth":2.5,"labelFontSize":13.5,"labelLimit":200,"labelColor":"#000000","labelOffset":4,"rowPadding":0.7}}
}
}
